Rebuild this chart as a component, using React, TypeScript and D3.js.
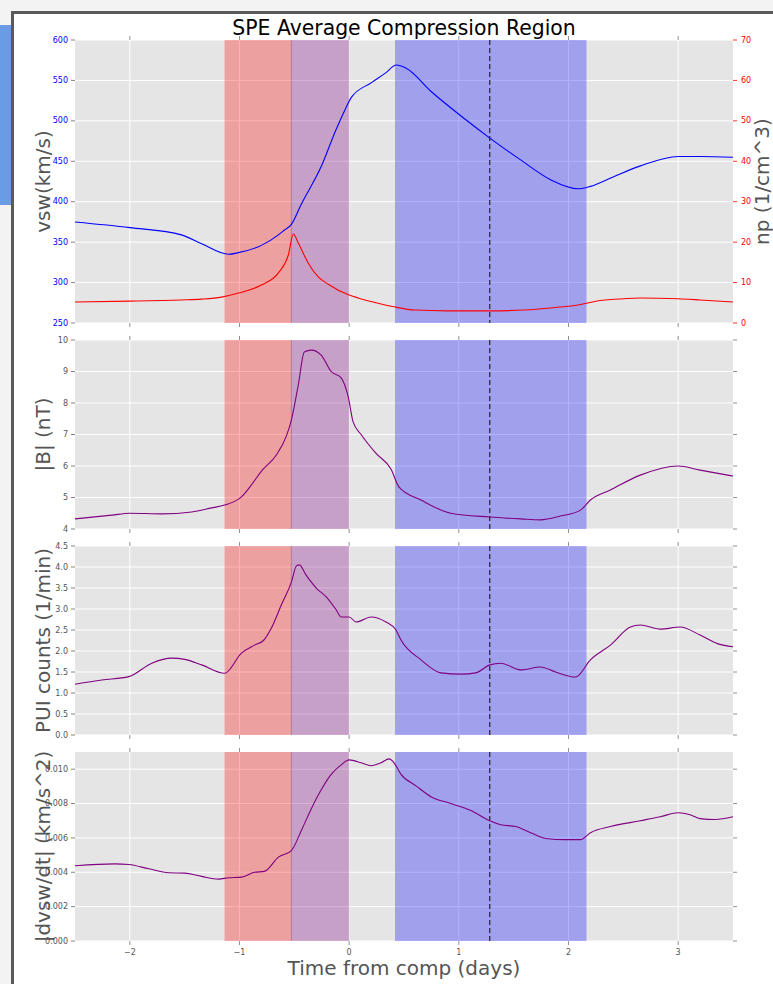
import React from 'react';
import * as d3 from 'd3';

// time axis (days from compression)
const xTicks = [-2, -1, 0, 1, 2, 3];

// shaded intervals and reference line
const redSpan = [-1.136, -0.527];
const purpleSpan = [-0.527, 0];
const blueSpan = [0.418, 2.164];
const dashedAt = 1.282;

// panel 1: solar wind speed (left) and density (right)
const vswT = [-2.5, -2.0, -1.53, -1.345, -1.1, -1.01, -0.8, -0.645, -0.59, -0.527, -0.44, -0.25, -0.12, -0.03, 0.02, 0.2, 0.33, 0.43, 0.52, 0.75, 1.02, 1.28, 1.56, 1.84, 2.09, 2.2, 2.38, 2.65, 3.0, 3.2, 3.5];
const vswV = [375, 368, 359, 348, 335, 337, 346, 359, 365, 372, 396, 445, 489, 516, 529, 547, 559, 569, 565, 536, 506, 479, 452, 427, 416, 419, 429, 444, 456, 456, 455];
const npT = [-2.5, -2.0, -1.53, -1.345, -1.164, -1.009, -0.8, -0.645, -0.555, -0.509, -0.464, -0.373, -0.282, -0.191, 0, 0.082, 0.264, 0.41, 0.6, 0.9, 1.28, 1.6, 1.9, 2.1, 2.25, 2.5, 2.65, 3.0, 3.2, 3.5];
const npV = [5.2, 5.4, 5.7, 5.9, 6.4, 7.4, 9.4, 12.4, 16.8, 22.0, 19.8, 14.8, 11.4, 9.6, 6.9, 6.2, 4.9, 4.0, 3.2, 3.0, 3.0, 3.2, 3.9, 4.5, 5.4, 6.0, 6.2, 6.0, 5.7, 5.2];
const vswTicks = [250, 300, 350, 400, 450, 500, 550, 600];
const npTicks = [0, 10, 20, 30, 40, 50, 60, 70];

// panel 2: |B|
const bT = [-2.5, -2.164, -2.0, -1.709, -1.436, -1.255, -1.136, -0.982, -0.891, -0.8, -0.664, -0.573, -0.527, -0.464, -0.409, -0.345, -0.255, -0.164, -0.073, -0.009, 0.036, 0.109, 0.245, 0.382, 0.455, 0.655, 0.927, 1.282, 1.564, 1.745, 1.927, 2.109, 2.2, 2.382, 2.655, 3.0, 3.2, 3.5];
const bV = [4.32, 4.44, 4.5, 4.48, 4.54, 4.67, 4.76, 5.02, 5.4, 5.84, 6.35, 6.95, 7.46, 8.57, 9.62, 9.68, 9.52, 9.0, 8.8, 8.2, 7.4, 7.0, 6.4, 5.9, 5.33, 4.92, 4.5, 4.38, 4.32, 4.29, 4.41, 4.6, 4.92, 5.24, 5.71, 6.0, 5.87, 5.68];
const bTicks = [4, 5, 6, 7, 8, 9, 10];

// panel 3: PUI counts
const puiT = [-2.5, -2.255, -2.009, -1.8, -1.618, -1.5, -1.345, -1.136, -0.982, -0.864, -0.782, -0.709, -0.618, -0.527, -0.482, -0.455, -0.391, -0.3, -0.209, -0.118, -0.073, 0, 0.064, 0.2, 0.336, 0.427, 0.473, 0.655, 0.836, 1.018, 1.155, 1.282, 1.382, 1.564, 1.745, 1.882, 2.064, 2.2, 2.382, 2.564, 2.655, 2.836, 3.018, 3.2, 3.364, 3.5];
const puiV = [1.21, 1.31, 1.39, 1.71, 1.83, 1.8, 1.67, 1.47, 1.95, 2.14, 2.25, 2.55, 3.1, 3.64, 4.02, 4.05, 3.8, 3.5, 3.29, 2.98, 2.81, 2.81, 2.69, 2.81, 2.69, 2.5, 2.26, 1.79, 1.48, 1.45, 1.48, 1.67, 1.71, 1.55, 1.62, 1.5, 1.38, 1.79, 2.14, 2.57, 2.62, 2.52, 2.57, 2.38, 2.17, 2.1];
const puiTicks = [0, 0.5, 1, 1.5, 2, 2.5, 3, 3.5, 4, 4.5];

// panel 4: |dvsw/dt|
const dvT = [-2.5, -2.136, -2.009, -1.827, -1.645, -1.5, -1.345, -1.191, -1.1, -0.982, -0.864, -0.773, -0.645, -0.527, -0.436, -0.345, -0.255, -0.164, -0.073, 0, 0.109, 0.2, 0.291, 0.364, 0.409, 0.473, 0.609, 0.745, 0.927, 1.109, 1.282, 1.382, 1.518, 1.655, 1.791, 1.973, 2.109, 2.2, 2.382, 2.655, 2.836, 3.0, 3.109, 3.2, 3.336, 3.5];
const dvV = [0.00438, 0.00449, 0.00445, 0.0042, 0.00397, 0.00395, 0.00376, 0.0036, 0.00368, 0.00372, 0.004, 0.00405, 0.00488, 0.00526, 0.00643, 0.0077, 0.0088, 0.0097, 0.01025, 0.01054, 0.01037, 0.0102, 0.01037, 0.0106, 0.01037, 0.0097, 0.00903, 0.0084, 0.008, 0.0076, 0.007, 0.00677, 0.00666, 0.0063, 0.00597, 0.0059, 0.0059, 0.0063, 0.00666, 0.007, 0.00723, 0.00746, 0.00735, 0.00712, 0.00707, 0.00723];
const dvTicks = [0, 0.002, 0.004, 0.006, 0.008, 0.01];

const FONT = 'DejaVu Sans, sans-serif';
const left = 75;
const right = 733;
const x = d3.scaleLinear().domain([-2.5, 3.5]).range([left, right]);
const fmtMinus = (s: string) => s.replace('-', '\u2212');

const panels = [
  { top: 40, bottom: 323, domain: [250, 600], ticks: vswTicks, fmt: d3.format('d'), label: 'vsw(km/s)', tickColor: '#0000ff' },
  { top: 340, bottom: 529, domain: [4, 10], ticks: bTicks, fmt: d3.format('d'), label: '|B| (nT)', tickColor: '#555' },
  { top: 546, bottom: 735, domain: [0, 4.5], ticks: puiTicks, fmt: d3.format('.1f'), label: 'PUI counts (1/min)', tickColor: '#555' },
  { top: 752, bottom: 941, domain: [0, 0.011], ticks: dvTicks, fmt: d3.format('.3f'), label: '|dvsw/dt| (km/s^2)', tickColor: '#555' },
];

function linePath(ts: number[], vs: number[], y: d3.ScaleLinear<number, number>) {
  const pts = ts.map((t, i) => [t, vs[i]] as [number, number]);
  return d3.line<[number, number]>()
    .x(d => x(d[0]))
    .y(d => y(d[1]))
    .curve(d3.curveMonotoneX)(pts) || '';
}

function Span({ s, color, top, bottom }: { s: number[]; color: string; top: number; bottom: number }) {
  return (
    <rect x={x(s[0])} y={top} width={x(s[1]) - x(s[0])} height={bottom - top}
      fill={color} fillOpacity={0.3} />
  );
}

export default function App() {
  return (
    <svg width={773} height={984} style={{ position: 'absolute', left: 0, top: 0 }} fontFamily={FONT}>
      {/* window frame */}
      <rect x={0} y={0} width={773} height={984} fill="#f3f3f3" />
      <rect x={0} y={25} width={11} height={180} fill="#6a9ce6" />
      <rect x={11} y={11} width={762} height={973} fill="#5a5a5a" />
      <rect x={14} y={14} width={759} height={970} fill="#ffffff" />

      <text x={404} y={35} textAnchor="middle" fontSize={20.4} fill="#000">SPE Average Compression Region</text>

      {panels.map((p, pi) => {
        const y = d3.scaleLinear().domain(p.domain).range([p.bottom, p.top]);
        const midY = (p.top + p.bottom) / 2;
        return (
          <g key={pi}>
            <rect x={left} y={p.top} width={right - left} height={p.bottom - p.top} fill="#e5e5e5" />
            {p.ticks.map(t => (
              <line key={'gy' + t} x1={left} x2={right} y1={y(t)} y2={y(t)} stroke="#fff" strokeWidth={1} />
            ))}
            {xTicks.map(t => (
              <line key={'gx' + t} x1={x(t)} x2={x(t)} y1={p.top} y2={p.bottom} stroke="#fff" strokeWidth={1} />
            ))}
            <Span s={redSpan} color="#ff0000" top={p.top} bottom={p.bottom} />
            <Span s={purpleSpan} color="#800080" top={p.top} bottom={p.bottom} />
            <Span s={blueSpan} color="#0000ff" top={p.top} bottom={p.bottom} />
            <line x1={x(purpleSpan[0])} x2={x(purpleSpan[0])} y1={p.top} y2={p.bottom} stroke="#9a6088" strokeOpacity={0.6} strokeWidth={1} />
            <line x1={x(dashedAt)} x2={x(dashedAt)} y1={p.top} y2={p.bottom} stroke="#222" strokeWidth={1.2} strokeDasharray="5,3" />

            {/* left ticks */}
            {p.ticks.map(t => (
              <g key={'ty' + t}>
                <line x1={left - 4} x2={left} y1={y(t)} y2={y(t)} stroke="#666" strokeWidth={0.8} />
                <text x={left - 7} y={y(t)} dy="0.33em" textAnchor="end" fontSize={8} fill={p.tickColor}>{p.fmt(t)}</text>
              </g>
            ))}
            {/* right ticks (unlabelled, except panel 1 which has twin axis) */}
            {pi > 0 && p.ticks.map(t => (
              <line key={'tr' + t} x1={right} x2={right + 4} y1={y(t)} y2={y(t)} stroke="#777" strokeWidth={0.8} />
            ))}
            {/* top and bottom ticks */}
            {xTicks.map(t => (
              <g key={'tx' + t}>
                <line x1={x(t)} x2={x(t)} y1={p.top - 4} y2={p.top} stroke="#777" strokeWidth={0.8} />
                <line x1={x(t)} x2={x(t)} y1={p.bottom} y2={p.bottom + 4} stroke="#777" strokeWidth={0.8} />
              </g>
            ))}
            <text transform={`translate(50,${midY}) rotate(-90)`} textAnchor="middle" fontSize={20} fill="#555">{p.label}</text>

            {pi === 0 && (() => {
              const yn = d3.scaleLinear().domain([0, 70]).range([p.bottom, p.top]);
              return (
                <g>
                  {npTicks.map(t => (
                    <g key={'tn' + t}>
                      <line x1={right} x2={right + 4} y1={yn(t)} y2={yn(t)} stroke="#ff0000" strokeWidth={0.8} />
                      <text x={right + 8} y={yn(t)} dy="0.33em" fontSize={8} fill="#ff0000">{t}</text>
                    </g>
                  ))}
                  <path d={linePath(vswT, vswV, y)} fill="none" stroke="#0000ff" strokeWidth={1.1} />
                  <path d={linePath(npT, npV, yn)} fill="none" stroke="#ff0000" strokeWidth={1.1} />
                  <text transform={`translate(769,${midY}) rotate(-90)`} textAnchor="middle" fontSize={20} fill="#555">np (1/cm^3)</text>
                </g>
              );
            })()}
            {pi === 1 && <path d={linePath(bT, bV, y)} fill="none" stroke="#800080" strokeWidth={1.1} />}
            {pi === 2 && <path d={linePath(puiT, puiV, y)} fill="none" stroke="#800080" strokeWidth={1.1} />}
            {pi === 3 && <path d={linePath(dvT, dvV, y)} fill="none" stroke="#800080" strokeWidth={1.1} />}
          </g>
        );
      })}

      {/* bottom time axis labels */}
      {xTicks.map(t => (
        <text key={'lx' + t} x={x(t)} y={955} textAnchor="middle" fontSize={8} fill="#555">{fmtMinus(String(t))}</text>
      ))}
      <text x={404} y={975} textAnchor="middle" fontSize={20} fill="#555">Time from comp (days)</text>
    </svg>
  );
}
